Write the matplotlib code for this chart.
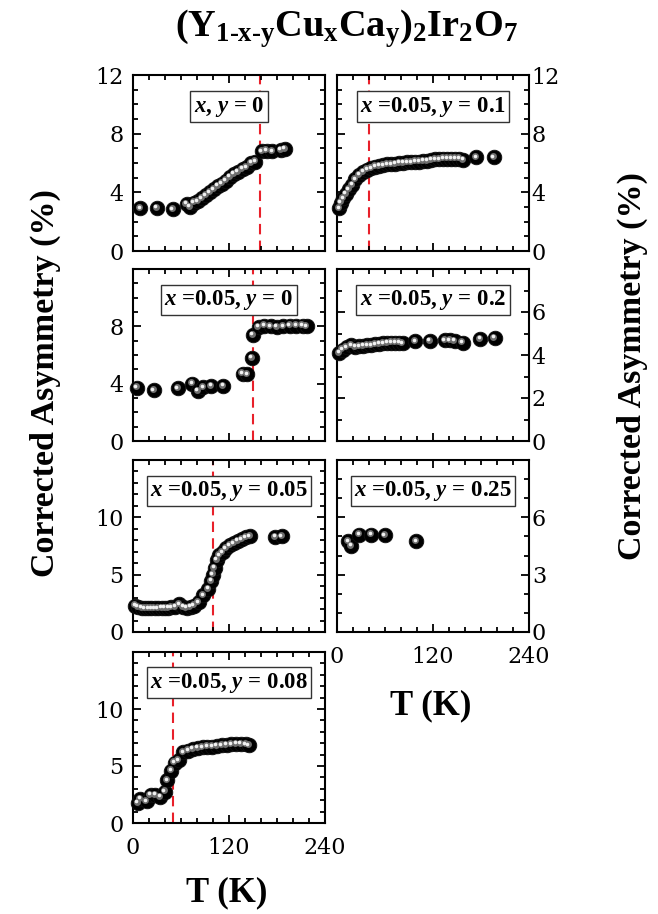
import matplotlib
matplotlib.use("Agg")
import matplotlib.pyplot as plt
from matplotlib.ticker import MultipleLocator
from matplotlib import transforms

plt.rcParams['mathtext.fontset'] = 'custom'
plt.rcParams['mathtext.rm'] = 'Liberation Serif:bold'
plt.rcParams['mathtext.bf'] = 'Liberation Serif:bold'
plt.rcParams['mathtext.it'] = 'Liberation Serif:bold:italic'

# ---------------- data ----------------
T1 = [9, 30, 50, 67, 71, 76, 81, 86, 91, 96, 101, 106, 111, 116, 121, 126, 131, 137, 142, 148, 153, 161, 167, 174, 185, 190]
A1 = [2.9, 2.95, 2.85, 3.2, 3.0, 3.3, 3.4, 3.6, 3.8, 4.0, 4.2, 4.45, 4.6, 4.8, 5.05, 5.25, 5.4, 5.6, 5.7, 6.0, 6.1, 6.8, 6.85, 6.8, 6.9, 6.95]

T2 = [3, 5, 8, 11, 15, 19, 23, 28, 33, 38, 43, 48, 53, 58, 63, 68, 73, 78, 83, 88, 93, 98, 103, 108, 113, 118, 123, 128, 133, 138, 143, 148, 153, 158, 174, 196]
A2 = [2.9, 3.3, 3.6, 3.9, 4.2, 4.5, 4.9, 5.2, 5.4, 5.55, 5.65, 5.75, 5.8, 5.85, 5.9, 5.9, 5.95, 6.0, 6.0, 6.05, 6.05, 6.1, 6.1, 6.15, 6.15, 6.2, 6.25, 6.25, 6.3, 6.3, 6.3, 6.3, 6.3, 6.2, 6.4, 6.4]

T3 = [5, 26, 56, 74, 81, 88, 98, 113, 137, 143, 148.5, 150, 157, 164, 172, 180, 188, 196, 204, 212, 217]
A3 = [3.72, 3.55, 3.67, 4.0, 3.5, 3.75, 3.85, 3.85, 4.7, 4.65, 5.8, 7.4, 7.95, 8.05, 8.0, 7.95, 8.0, 8.05, 8.05, 8.05, 8.0]

T4 = [3, 7, 12, 18, 23, 28, 33, 38, 43, 48, 53, 58, 63, 68, 73, 78, 82, 98, 116, 135, 141, 147, 157, 179, 197]
A4 = [4.1, 4.25, 4.35, 4.45, 4.38, 4.4, 4.42, 4.45, 4.45, 4.5, 4.52, 4.55, 4.57, 4.58, 4.58, 4.58, 4.55, 4.63, 4.66, 4.69, 4.68, 4.66, 4.58, 4.74, 4.79]

T5 = [3, 6, 11, 15, 19, 23, 27, 31, 36, 40, 44, 48, 53, 58, 63, 67, 72, 76, 82, 88, 94, 98, 100, 102, 105, 108, 112, 116, 121, 126, 131, 136, 141, 146, 178, 186]
A5 = [2.3, 2.2, 2.1, 2.05, 2.05, 2.05, 2.05, 2.05, 2.1, 2.1, 2.1, 2.15, 2.2, 2.4, 2.2, 2.1, 2.2, 2.3, 2.6, 3.2, 3.75, 4.45, 5.0, 5.6, 6.3, 6.7, 6.95, 7.3, 7.55, 7.75, 7.95, 8.1, 8.25, 8.35, 8.3, 8.35]

T6 = [14, 18, 28, 43, 60, 99]
A6 = [4.75, 4.5, 5.1, 5.1, 5.05, 4.75]

T7 = [6, 9, 17, 22, 28, 34, 40, 43, 48, 52, 57, 63, 69, 75, 81, 87, 93, 99, 105, 111, 117, 123, 129, 135, 141, 145]
A7 = [1.75, 2.1, 1.9, 2.45, 2.45, 2.3, 2.75, 3.75, 4.6, 5.3, 5.5, 6.2, 6.35, 6.5, 6.6, 6.65, 6.7, 6.7, 6.75, 6.8, 6.85, 6.9, 6.95, 6.95, 6.9, 6.8]

labels = [r"$\mathit{x}$, $\mathit{y}$ = 0",
          r"$\mathit{x}$ =0.05, $\mathit{y}$ = 0.1",
          r"$\mathit{x}$ =0.05, $\mathit{y}$ = 0",
          r"$\mathit{x}$ =0.05, $\mathit{y}$ = 0.2",
          r"$\mathit{x}$ =0.05, $\mathit{y}$ = 0.05",
          r"$\mathit{x}$ =0.05, $\mathit{y}$ = 0.25",
          r"$\mathit{x}$ =0.05, $\mathit{y}$ = 0.08"]
Tc = [159, 39.5, 150, None, 100, None, 50]
ylims = [12, 12, 12, 8, 15, 9, 15]
yticks = [[0, 4, 8, 12], [0, 4, 8, 12], [0, 4, 8], [0, 2, 4, 6], [0, 5, 10], [0, 3, 6], [0, 5, 10]]
xticks = [0, 120, 240]

# ---------------- layout ----------------
fig = plt.figure(figsize=(6.58, 9.14), dpi=100)
W, H = 658, 914
xl, xr, aw = 133, 337, 192
rows = [(75, 251), (269, 441), (460, 632), (652, 823)]
specs = [(xl, 0), (xr, 0), (xl, 1), (xr, 1), (xl, 2), (xr, 2), (xl, 3)]
datasets = [(T1, A1), (T2, A2), (T3, A3), (T4, A4), (T5, A5), (T6, A6), (T7, A7)]
xlabel_panels = [5, 6]

for i, ((x0, r), (T, A)) in enumerate(zip(specs, datasets)):
    top, bot = rows[r]
    ax = fig.add_axes([x0 / W, (H - bot) / H, aw / W, (bot - top) / H])
    ax.set_xlim(0, 240)
    ax.set_ylim(0, ylims[i])
    right = (x0 == xr)
    ax.set_xticks(xticks)
    ax.xaxis.set_minor_locator(MultipleLocator(20))
    ax.set_yticks(yticks[i])
    ax.yaxis.set_minor_locator(MultipleLocator(1))
    ax.tick_params(which='both', direction='in', top=True, bottom=True, left=True, right=True,
                   width=1.3, labelleft=not right, labelright=right,
                   labelbottom=(i in xlabel_panels))
    ax.tick_params(which='major', length=6)
    ax.tick_params(which='minor', length=3.5)
    ax.tick_params(axis='y', which='major', pad=(2 if right else 7))
    ax.tick_params(axis='x', which='major', pad=(10 if right else 10))
    for lab in ax.get_xticklabels() + ax.get_yticklabels():
        lab.set_fontfamily('DejaVu Serif')
        lab.set_fontsize(16)
    for s in ax.spines.values():
        s.set_linewidth(1.5)

    if Tc[i] is not None:
        ax.axvline(Tc[i], color='#e8202a', lw=1.5, dashes=(5, 3), zorder=1)

    ax.plot(T, A, 'o', ms=10.5, color='black', mec='#111111', mew=0.6, zorder=3, clip_on=False)
    tr1 = transforms.offset_copy(ax.transData, fig=fig, x=-1.2, y=1.2, units='dots')
    ax.plot(T, A, 'o', ms=5, color='#6e6e6e', mew=0, zorder=4, transform=tr1, clip_on=False)
    tr2 = transforms.offset_copy(ax.transData, fig=fig, x=-1.6, y=1.6, units='dots')
    ax.plot(T, A, 'o', ms=2.6, color='#f2f2f2', mew=0, zorder=5, transform=tr2, clip_on=False)

    ax.text(0.5, 0.82, labels[i], transform=ax.transAxes, ha='center', va='center',
            fontfamily='Liberation Serif', fontweight='bold', fontsize=16.5, zorder=6,
            bbox=dict(boxstyle='square,pad=0.15', fc='white', ec='#333333', lw=1.0))

fig.text(347 / W, 1 - 29 / H, "$\\mathbf{(Y_{1\u2010x\u2010y}Cu_{x}Ca_{y})_{2}Ir_{2}O_{7}}$",
         ha='center', va='center', fontsize=27.5)
fig.text(45 / W, 1 - 383 / H, "Corrected Asymmetry (%)", rotation=90, ha='center', va='center',
         fontfamily='Liberation Serif', fontweight='bold', fontsize=24.5)
fig.text(632 / W, 1 - 366 / H, "Corrected Asymmetry (%)", rotation=90, ha='center', va='center',
         fontfamily='Liberation Serif', fontweight='bold', fontsize=24.5)
fig.text(227 / W, 1 - 893 / H, "T (K)", ha='center', va='center',
         fontfamily='Liberation Serif', fontweight='bold', fontsize=25)
fig.text(431 / W, 1 - 706 / H, "T (K)", ha='center', va='center',
         fontfamily='Liberation Serif', fontweight='bold', fontsize=25)

fig.savefig("out.png", dpi=100)
